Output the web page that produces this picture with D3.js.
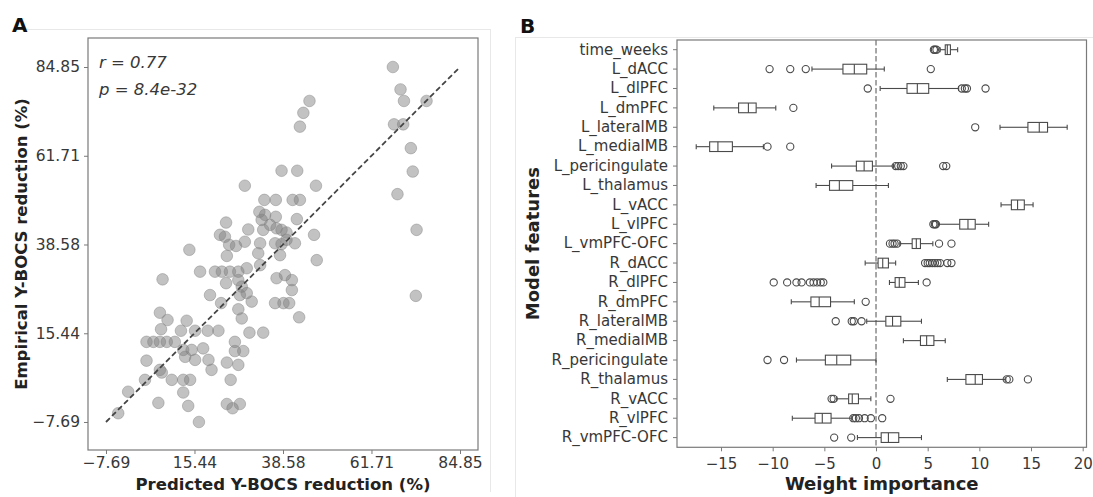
<!DOCTYPE html>
<html>
<head>
<meta charset="utf-8">
<script src="https://cdn.jsdelivr.net/npm/d3@7"></script>
<style>
  html, body { margin: 0; padding: 0; background: #ffffff; }
  svg { display: block; font-family: "DejaVu Sans", sans-serif; }
</style>
</head>
<body>
<svg id="chart" width="1093" height="497"></svg>
<script>
// ---------------- Panel A data ----------------
const predictedReduction = [
  67.3, 69.3, 70.2, 76.1, 67.6, 70.0, 72.0, 72.5, 68.5, 73.5, 73.3,
  45.5, 43.9, 43.0, 38.2, 42.3, 47.2, 28.6, 33.7, 36.7, 41.1, 43.0,
  32.4, 33.9, 33.0, 36.7, 42.2, 23.7, 29.5, 35.2, 36.9, 38.2, 39.5,
  22.1, 23.4, 33.4, 46.7, 24.5, 26.3, 28.6, 32.6, 36.5, 38.2, 39.5,
  41.7, 14.1, 23.9, 32.1, 37.8, 47.4, 16.9, 20.8, 22.6, 24.7, 26.9,
  29.1, 32.6, 36.9, 39.1, 40.9, 7.1, 23.7, 26.9, 27.8, 40.9, 38.7,
  40.2, 42.8, 36.5, 29.1, 27.3, 30.4, 26.9, 27.8, 29.8, 33.4, 26.0,
  26.0, 28.2, 23.9, 26.9, 24.9, 23.9, 27.3, 25.4, 19.5, 22.4, 6.4,
  8.4, 13.4, 6.7, 11.9, 15.6, 18.9, 21.7, 2.9, 4.7, 6.4, 8.2, 10.3,
  12.5, 14.7, 17.7, 13.0, 15.6, 19.1, 2.9, 6.4, 6.9, 19.9, 2.5, 9.5,
  12.5, 14.3, -1.9, 12.5, 6.0, 13.8, -4.5, 16.6
];
const empiricalReduction = [
  84.85, 79.0, 76.0, 76.0, 69.9, 69.9, 63.7, 57.6, 51.7, 42.4, 25.2,
  76.0, 72.9, 69.3, 57.8, 57.8, 53.9, 53.9, 50.2, 50.2, 50.2, 50.2,
  47.1, 46.3, 45.0, 45.8, 45.2, 44.3, 42.5, 43.7, 42.8, 42.4, 41.7,
  41.1, 40.6, 42.4, 41.1, 38.5, 38.2, 39.3, 38.9, 38.9, 38.7, 39.8,
  38.9, 37.2, 35.6, 36.3, 35.8, 34.5, 31.5, 31.5, 31.5, 31.5, 31.5,
  32.4, 33.2, 29.8, 30.6, 29.3, 29.5, 28.5, 29.3, 27.6, 26.7, 23.3,
  23.3, 19.6, 23.3, 25.9, 25.4, 23.7, 21.7, 19.3, 15.6, 15.6, 13.2,
  10.8, 10.8, 7.8, 7.2, 3.3, -3.0, -3.0, -4.1, 25.4, 23.3, 20.8,
  18.9, 18.7, 16.5, 16.1, 16.1, 16.1, 16.1, 13.2, 13.2, 13.2, 13.2, 13.2,
  11.1, 11.1, 11.5, 9.3, 8.5, 8.5, 8.3, 5.9, 5.2, 5.9, 3.3, 3.3,
  3.3, 3.3, 0.2, 0.0, -2.7, -3.5, -5.4, -7.69
];
const reductionTicks = [-7.69, 15.44, 38.58, 61.71, 84.85];
const identityLine = [-7.69, 84.85];
const statsText = ["r = 0.77", "p = 8.4e-32"];

// ---------------- Panel B data ----------------
const features = ["time_weeks","L_dACC","L_dlPFC","L_dmPFC","L_lateralMB","L_medialMB",
  "L_pericingulate","L_thalamus","L_vACC","L_vlPFC","L_vmPFC-OFC","R_dACC","R_dlPFC",
  "R_dmPFC","R_lateralMB","R_medialMB","R_pericingulate","R_thalamus","R_vACC","R_vlPFC","R_vmPFC-OFC"];
const whiskerLow  = [6.2, -6.2, 0.4, -15.7, 12.0, -17.4, -4.3, -5.8, 12.1, 6.0, 2.3, -1.05, 1.3, -8.2, -0.9, 2.65, -7.7, 6.9, -3.8, -8.1, -1.8];
const quartile1   = [6.7, -3.2, 3.0, -13.3, 14.7, -16.1, -1.9, -4.5, 13.1, 8.1, 3.5, 0.2, 1.85, -6.3, 0.95, 4.3, -4.9, 8.7, -2.65, -5.9, 0.5];
const medians     = [6.9, -2.1, 4.0, -12.35, 15.8, -15.3, -1.15, -3.55, 13.7, 8.9, 3.9, 0.65, 2.25, -5.5, 1.6, 4.9, -3.8, 9.6, -2.3, -5.2, 1.2];
const quartile3   = [7.2, -0.9, 5.1, -11.6, 16.6, -13.9, -0.35, -2.25, 14.35, 9.6, 4.3, 1.2, 2.8, -4.4, 2.4, 5.6, -2.45, 10.3, -1.7, -4.35, 2.2];
const whiskerHigh = [7.9, 0.8, 8.0, -9.7, 18.5, -10.9, 1.7, 1.2, 15.2, 10.9, 5.5, 1.9, 4.1, -2.1, 4.4, 6.7, 0.0, 12.5, -0.5, -2.35, 4.4];
const outliers = [
  [5.6, 5.7, 5.85],
  [-10.3, -8.3, -6.8, 5.3],
  [-0.8, 8.3, 8.6, 8.8, 10.6],
  [-8.0],
  [9.6],
  [-10.5, -8.3],
  [1.9, 2.15, 2.4, 2.65, 6.5, 6.8],
  [],
  [],
  [5.55, 5.7, 5.8],
  [1.35, 1.6, 1.8, 2.05, 6.1, 7.3],
  [4.75, 5.0, 5.2, 5.45, 5.7, 5.95, 6.2, 6.9, 7.3],
  [-9.9, -8.6, -7.7, -7.2, -6.4, -6.05, -5.7, -5.35, -5.1, 4.9],
  [-1.0],
  [-3.9, -2.35, -2.15, -1.4],
  [],
  [-10.5, -8.9],
  [12.65, 12.9, 14.7],
  [-4.3, -4.1, 1.4],
  [-2.2, -1.95, -1.65, -1.1, -0.5, 0.6],
  [-4.05, -2.4]
];
const weightTicks = [-15, -10, -5, 0, 5, 10, 15, 20];

// ---------------- Drawing ----------------
const svg = d3.select("#chart");
const textColor = "#383838";
const frameColor = "#7a7a7a";

svg.append("rect").attr("width", 1093).attr("height", 497).attr("fill", "#fff");

// faint panel borders
const faint = "#e8e8e8";
svg.append("line").attr("x1", 18).attr("x2", 490).attr("y1", 29.5).attr("y2", 29.5).attr("stroke", faint);
svg.append("line").attr("x1", 490.5).attr("x2", 490.5).attr("y1", 29).attr("y2", 492).attr("stroke", faint);
svg.append("line").attr("x1", 515.5).attr("x2", 515.5).attr("y1", 37).attr("y2", 497).attr("stroke", faint);
svg.append("line").attr("x1", 515).attr("x2", 1093).attr("y1", 37.5).attr("y2", 37.5).attr("stroke", faint);

// Panel letters
svg.append("text").attr("x", 12).attr("y", 32).text("A")
  .attr("font-size", 20).attr("font-weight", "bold").attr("fill", "#111");
svg.append("text").attr("x", 520).attr("y", 33).text("B")
  .attr("font-size", 20).attr("font-weight", "bold").attr("fill", "#111");

// ---- Panel A ----
const A = { left: 88, top: 38, right: 478, bottom: 450 };
const xA = d3.scaleLinear().domain([-12.395, 89.555]).range([A.left, A.right]);
const yA = d3.scaleLinear().domain([-14.99, 92.41]).range([A.bottom, A.top]);

const gA = svg.append("g");
const points = predictedReduction.map((p, i) => ({ x: p, y: empiricalReduction[i] }));
gA.append("g").selectAll("circle").data(points).join("circle")
  .attr("cx", d => xA(d.x)).attr("cy", d => yA(d.y)).attr("r", 5.8)
  .attr("fill", "#808080").attr("fill-opacity", 0.48)
  .attr("stroke", "#808080").attr("stroke-opacity", 0.45).attr("stroke-width", 1);

gA.append("line")
  .attr("x1", xA(identityLine[0])).attr("y1", yA(identityLine[0]))
  .attr("x2", xA(identityLine[1])).attr("y2", yA(identityLine[1]))
  .attr("stroke", "#454545").attr("stroke-width", 1.8).attr("stroke-dasharray", "5.5,3");

const fmtA = d => d3.format(".2f")(d).replace("-", "\u2212");
const axAx = gA.append("g").attr("transform", `translate(0,${A.bottom})`)
  .call(d3.axisBottom(xA).tickValues(reductionTicks).tickFormat(fmtA).tickSize(4).tickPadding(3));
const axAy = gA.append("g").attr("transform", `translate(${A.left},0)`)
  .call(d3.axisLeft(yA).tickValues(reductionTicks).tickFormat(fmtA).tickSize(4).tickPadding(4));
[axAx, axAy].forEach(ax => {
  ax.select(".domain").remove();
  ax.selectAll(".tick line").attr("stroke", frameColor).attr("stroke-width", 1);
  ax.selectAll(".tick text").attr("font-size", 15.5).attr("fill", textColor).attr("font-family", "DejaVu Sans");
});

gA.append("rect").attr("x", A.left).attr("y", A.top)
  .attr("width", A.right - A.left).attr("height", A.bottom - A.top)
  .attr("fill", "none").attr("stroke", frameColor).attr("stroke-width", 1.2);

gA.selectAll("text.stat").data(statsText).join("text").attr("class", "stat")
  .attr("x", 99).attr("y", (d, i) => 68 + i * 27)
  .attr("font-size", 16.5).attr("font-style", "italic").attr("fill", textColor).text(d => d);

gA.append("text").attr("x", (A.left + A.right) / 2).attr("y", 490)
  .attr("text-anchor", "middle").attr("font-size", 16.5).attr("font-weight", "bold").attr("fill", "#222")
  .text("Predicted Y-BOCS reduction (%)");
gA.append("text").attr("transform", `translate(27,${(A.top + A.bottom) / 2}) rotate(-90)`)
  .attr("text-anchor", "middle").attr("font-size", 16.5).attr("font-weight", "bold").attr("fill", "#222")
  .text("Empirical Y-BOCS reduction (%)");

// ---- Panel B ----
const B = { left: 677, top: 40, right: 1086.5, bottom: 447.3 };
const xB = d3.scaleLinear().domain([-19.26, 20.37]).range([B.left, B.right]);
const yB = d3.scaleBand().domain(features).range([B.top, B.bottom]).padding(0);
const gB = svg.append("g");
const boxH = yB.bandwidth() * 0.5;
const boxColor = "#4a4a4a";

gB.append("line").attr("x1", xB(0)).attr("x2", xB(0)).attr("y1", B.top).attr("y2", B.bottom)
  .attr("stroke", "#8a8a8a").attr("stroke-width", 1.5).attr("stroke-dasharray", "5.5,2.5");

const rows = features.map((f, i) => ({
  f, lo: whiskerLow[i], q1: quartile1[i], med: medians[i], q3: quartile3[i], hi: whiskerHigh[i], out: outliers[i]
}));
const rowG = gB.selectAll("g.row").data(rows).join("g").attr("class", "row")
  .attr("transform", d => `translate(0,${yB(d.f) + yB.bandwidth() / 2})`);

rowG.append("line").attr("x1", d => xB(d.lo)).attr("x2", d => xB(d.q1)).attr("y1", 0).attr("y2", 0)
  .attr("stroke", boxColor).attr("stroke-width", 1.1);
rowG.append("line").attr("x1", d => xB(d.q3)).attr("x2", d => xB(d.hi)).attr("y1", 0).attr("y2", 0)
  .attr("stroke", boxColor).attr("stroke-width", 1.1);
rowG.append("line").attr("x1", d => xB(d.lo)).attr("x2", d => xB(d.lo)).attr("y1", -2.5).attr("y2", 2.5)
  .attr("stroke", boxColor).attr("stroke-width", 1.1);
rowG.append("line").attr("x1", d => xB(d.hi)).attr("x2", d => xB(d.hi)).attr("y1", -2.5).attr("y2", 2.5)
  .attr("stroke", boxColor).attr("stroke-width", 1.1);
rowG.append("rect").attr("x", d => xB(d.q1)).attr("width", d => xB(d.q3) - xB(d.q1))
  .attr("y", -boxH / 2).attr("height", boxH)
  .attr("fill", "#fff").attr("stroke", boxColor).attr("stroke-width", 1.1);
rowG.append("line").attr("x1", d => xB(d.med)).attr("x2", d => xB(d.med)).attr("y1", -boxH / 2).attr("y2", boxH / 2)
  .attr("stroke", boxColor).attr("stroke-width", 1.1);
rowG.selectAll("circle").data(d => d.out).join("circle")
  .attr("cx", v => xB(v)).attr("cy", 0).attr("r", 3.6)
  .attr("fill", "none").attr("stroke", boxColor).attr("stroke-width", 1.1);

const axBx = gB.append("g").attr("transform", `translate(0,${B.bottom})`)
  .call(d3.axisBottom(xB).tickValues(weightTicks).tickFormat(d => String(d).replace("-", "\u2212")).tickSize(4).tickPadding(4));
const axBy = gB.append("g").attr("transform", `translate(${B.left},0)`)
  .call(d3.axisLeft(yB).tickSize(4).tickPadding(5));
[axBx, axBy].forEach(ax => {
  ax.select(".domain").remove();
  ax.selectAll(".tick line").attr("stroke", frameColor).attr("stroke-width", 1);
  ax.selectAll(".tick text").attr("font-size", 15).attr("fill", textColor).attr("font-family", "DejaVu Sans");
});
axBx.selectAll(".tick text").attr("dy", "0.9em");

gB.append("rect").attr("x", B.left).attr("y", B.top)
  .attr("width", B.right - B.left).attr("height", B.bottom - B.top)
  .attr("fill", "none").attr("stroke", frameColor).attr("stroke-width", 1.2);

gB.append("text").attr("x", (B.left + B.right) / 2).attr("y", 490)
  .attr("text-anchor", "middle").attr("font-size", 18).attr("font-weight", "bold").attr("fill", "#222")
  .text("Weight importance");
gB.append("text").attr("transform", `translate(539,${(B.top + B.bottom) / 2}) rotate(-90)`)
  .attr("text-anchor", "middle").attr("font-size", 18).attr("font-weight", "bold").attr("fill", "#222")
  .text("Model features");
</script>
</body>
</html>
